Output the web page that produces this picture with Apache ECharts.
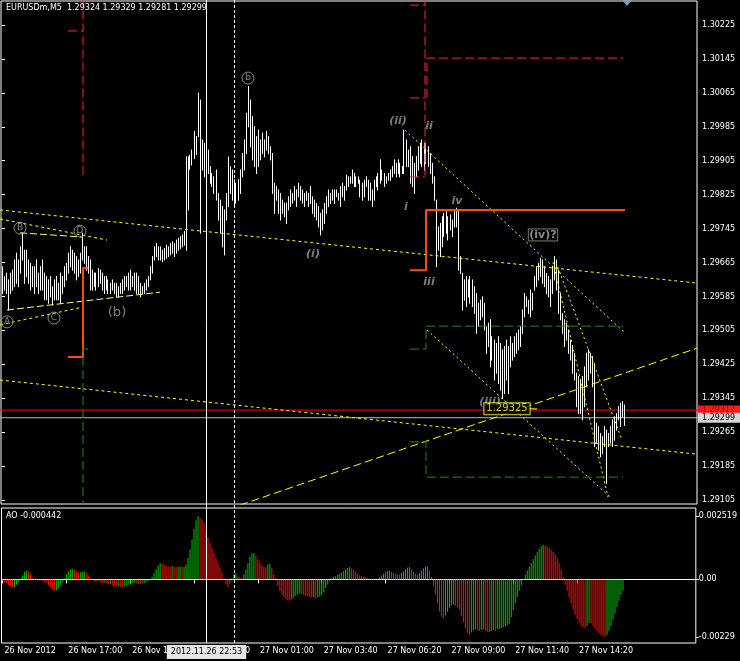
<!DOCTYPE html>
<html><head><meta charset="utf-8">
<script src="https://cdn.jsdelivr.net/npm/echarts@6/dist/echarts.min.js"></script>
<style>html,body{margin:0;padding:0;background:#000;}#c{width:740px;height:661px;}</style>
</head><body><div id="c"></div>
<script>
const symbolName = 'EURUSDm,M5';
const lastOpen = 1.29324, lastClose = 1.29299;
const barHigh = [
1.29655,1.29632,1.29640,1.29624,1.29640,1.29647,1.29671,1.29687,1.29671,1.29702,
1.29734,1.29694,1.29694,1.29671,1.29663,1.29655,1.29655,1.29671,1.29640,1.29655,
1.29671,1.29640,1.29632,1.29624,1.29632,1.29608,1.29624,1.29632,1.29616,1.29640,
1.29632,1.29655,1.29663,1.29687,1.29702,1.29694,1.29687,1.29679,1.29671,1.29687,
1.29734,1.29702,1.29702,1.29679,1.29671,1.29647,1.29640,1.29640,1.29651,1.29647,
1.29640,1.29632,1.29632,1.29624,1.29616,1.29624,1.29616,1.29616,1.29608,1.29616,
1.29624,1.29632,1.29632,1.29640,1.29647,1.29632,1.29640,1.29640,1.29632,1.29616,
1.29608,1.29616,1.29624,1.29632,1.29655,1.29679,1.29702,1.29710,1.29702,1.29702,
1.29694,1.29698,1.29706,1.29702,1.29710,1.29714,1.29710,1.29718,1.29722,1.29726,
1.29730,1.29738,1.29914,1.29914,1.29918,1.29930,1.29974,1.29962,1.30064,1.30048,
1.29954,1.29946,1.29938,1.29930,1.29891,1.29875,1.29867,1.29883,1.29828,1.29812,
1.29797,1.29789,1.29828,1.29914,1.29891,1.29883,1.29860,1.29852,1.29860,1.29883,
1.29922,1.29954,1.30017,1.30080,1.30048,1.30009,1.29985,1.29962,1.29977,1.29954,
1.29970,1.29954,1.29974,1.29962,1.29938,1.29922,1.29852,1.29844,1.29836,1.29828,
1.29812,1.29805,1.29805,1.29820,1.29836,1.29828,1.29844,1.29836,1.29852,1.29844,
1.29836,1.29828,1.29832,1.29828,1.29844,1.29820,1.29812,1.29804,1.29797,1.29781,
1.29789,1.29804,1.29820,1.29836,1.29828,1.29836,1.29836,1.29836,1.29828,1.29844,
1.29852,1.29844,1.29871,1.29867,1.29867,1.29883,1.29875,1.29867,1.29867,1.29859,
1.29852,1.29859,1.29867,1.29859,1.29852,1.29836,1.29859,1.29867,1.29875,1.29907,
1.29883,1.29875,1.29867,1.29875,1.29883,1.29891,1.29907,1.29899,1.29907,1.29899,
1.29891,1.29977,1.29954,1.29930,1.29938,1.29915,1.29899,1.29915,1.29938,1.29946,
1.29954,1.29946,1.29946,1.29938,1.29922,1.29899,1.29867,1.29812,1.29749,1.29757,
1.29773,1.29781,1.29785,1.29773,1.29777,1.29765,1.29789,1.29793,1.29789,1.29679,
1.29639,1.29624,1.29632,1.29624,1.29632,1.29624,1.29608,1.29592,1.29569,1.29576,
1.29584,1.29569,1.29514,1.29522,1.29530,1.29490,1.29482,1.29474,1.29490,1.29474,
1.29459,1.29467,1.29482,1.29467,1.29490,1.29474,1.29490,1.29498,1.29506,1.29514,
1.29553,1.29592,1.29584,1.29576,1.29600,1.29592,1.29632,1.29655,1.29663,1.29675,
1.29671,1.29655,1.29639,1.29632,1.29624,1.29655,1.29679,1.29671,1.29647,1.29592,
1.29545,1.29530,1.29522,1.29506,1.29482,1.29467,1.29451,1.29404,1.29396,1.29388,
1.29396,1.29419,1.29451,1.29459,1.29451,1.29443,1.29427,1.29286,1.29278,1.29262,
1.29254,1.29278,1.29270,1.29262,1.29278,1.29294,1.29301,1.29309,1.29325,1.29333,
1.29337,1.29329];
const barLow = [
1.29592,1.29600,1.29592,1.29553,1.29592,1.29600,1.29608,1.29616,1.29608,1.29640,
1.29671,1.29616,1.29632,1.29616,1.29600,1.29608,1.29592,1.29608,1.29592,1.29600,
1.29600,1.29577,1.29577,1.29569,1.29584,1.29565,1.29577,1.29577,1.29577,1.29569,
1.29592,1.29608,1.29624,1.29640,1.29655,1.29647,1.29640,1.29624,1.29632,1.29640,
1.29671,1.29663,1.29647,1.29640,1.29600,1.29600,1.29608,1.29600,1.29608,1.29616,
1.29600,1.29592,1.29600,1.29592,1.29592,1.29600,1.29592,1.29584,1.29584,1.29592,
1.29592,1.29600,1.29608,1.29600,1.29600,1.29608,1.29600,1.29592,1.29592,1.29584,
1.29592,1.29592,1.29600,1.29608,1.29624,1.29640,1.29671,1.29679,1.29671,1.29671,
1.29667,1.29671,1.29675,1.29679,1.29683,1.29687,1.29679,1.29687,1.29694,1.29698,
1.29702,1.29706,1.29694,1.29789,1.29885,1.29895,1.29910,1.29920,1.29962,1.29734,
1.29883,1.29867,1.29852,1.29875,1.29852,1.29844,1.29828,1.29812,1.29765,1.29734,
1.29702,1.29683,1.29765,1.29797,1.29828,1.29812,1.29797,1.29805,1.29812,1.29828,
1.29867,1.29883,1.29922,1.29985,1.29938,1.29907,1.29891,1.29875,1.29891,1.29907,
1.29922,1.29914,1.29930,1.29922,1.29907,1.29828,1.29781,1.29812,1.29781,1.29765,
1.29781,1.29773,1.29757,1.29789,1.29797,1.29805,1.29812,1.29797,1.29820,1.29812,
1.29805,1.29797,1.29812,1.29797,1.29804,1.29781,1.29773,1.29765,1.29749,1.29730,
1.29742,1.29757,1.29781,1.29797,1.29804,1.29812,1.29804,1.29820,1.29812,1.29797,
1.29820,1.29812,1.29836,1.29844,1.29852,1.29852,1.29844,1.29844,1.29852,1.29820,
1.29812,1.29820,1.29844,1.29812,1.29812,1.29797,1.29812,1.29844,1.29836,1.29852,
1.29859,1.29844,1.29852,1.29859,1.29859,1.29867,1.29875,1.29867,1.29875,1.29867,
1.29875,1.29875,1.29891,1.29891,1.29852,1.29844,1.29828,1.29867,1.29883,1.29899,
1.29891,1.29883,1.29899,1.29891,1.29875,1.29852,1.29812,1.29655,1.29694,1.29679,
1.29702,1.29726,1.29734,1.29718,1.29742,1.29726,1.29749,1.29749,1.29647,1.29639,
1.29553,1.29576,1.29561,1.29584,1.29569,1.29561,1.29545,1.29498,1.29514,1.29530,
1.29537,1.29506,1.29451,1.29467,1.29419,1.29435,1.29388,1.29404,1.29380,1.29364,
1.29344,1.29356,1.29388,1.29356,1.29419,1.29435,1.29443,1.29451,1.29459,1.29467,
1.29498,1.29537,1.29561,1.29545,1.29537,1.29553,1.29600,1.29608,1.29624,1.29632,
1.29616,1.29608,1.29592,1.29584,1.29561,1.29592,1.29624,1.29600,1.29545,1.29530,
1.29498,1.29467,1.29482,1.29451,1.29435,1.29404,1.29388,1.29325,1.29309,1.29309,
1.29294,1.29325,1.29372,1.29388,1.29404,1.29372,1.29231,1.29239,1.29223,1.29207,
1.29215,1.29231,1.29144,1.29231,1.29239,1.29231,1.29246,1.29270,1.29294,1.29278,
1.29301,1.29281];
const aoValues = [
-0.00005,-0.00010,-0.00015,-0.00022,-0.00028,-0.00032,-0.00030,-0.00020,-0.00010,0.00002,
0.00015,0.00030,0.00034,0.00032,0.00020,0.00005,0.00002,-0.00002,-0.00005,-0.00003,
-0.00006,-0.00008,-0.00012,-0.00022,-0.00032,-0.00040,-0.00045,-0.00044,-0.00035,-0.00022,
-0.00010,0.00005,0.00020,0.00032,0.00040,0.00042,0.00038,0.00032,0.00028,0.00029,
0.00030,0.00031,0.00025,0.00015,0.00005,-0.00002,-0.00006,-0.00008,-0.00005,-0.00010,
-0.00014,-0.00012,-0.00016,-0.00020,-0.00018,-0.00022,-0.00025,-0.00028,-0.00026,-0.00030,
-0.00032,-0.00028,-0.00024,-0.00022,-0.00018,-0.00016,-0.00014,-0.00016,-0.00018,-0.00017,
-0.00018,-0.00015,-0.00010,-0.00006,-0.00002,0.00010,0.00025,0.00040,0.00055,0.00065,
0.00062,0.00058,0.00054,0.00052,0.00050,0.00052,0.00050,0.00049,0.00050,0.00051,
0.00049,0.00050,0.00060,0.00085,0.00120,0.00160,0.00200,0.00235,0.002519,0.00245,
0.00238,0.00225,0.00195,0.00165,0.00145,0.00125,0.00105,0.00085,0.00065,0.00045,
0.00025,0.00005,-0.00020,-0.00030,-0.00015,0.00005,0.00020,0.00025,0.00012,0.00008,
0.00006,0.00020,0.00040,0.00065,0.00090,0.00103,0.00105,0.00095,0.00080,0.00065,
0.00055,0.00050,0.00048,0.00058,0.00062,0.00045,0.00020,0.00000,-0.00025,-0.00045,
-0.00060,-0.00070,-0.00078,-0.00083,-0.00085,-0.00080,-0.00072,-0.00065,-0.00058,-0.00055,
-0.00058,-0.00062,-0.00066,-0.00068,-0.00070,-0.00072,-0.00070,-0.00074,-0.00072,-0.00068,
-0.00062,-0.00050,-0.00035,-0.00020,-0.00005,0.00005,0.00010,0.00012,0.00018,0.00022,
0.00028,0.00034,0.00040,0.00045,0.00048,0.00044,0.00038,0.00030,0.00022,0.00015,
0.00012,0.00010,0.00008,0.00006,0.00004,0.00003,0.00002,0.00001,0.00003,0.00008,
0.00015,0.00022,0.00028,0.00032,0.00033,0.00030,0.00026,0.00022,0.00019,0.00018,
0.00025,0.00032,0.00040,0.00046,0.00048,0.00040,0.00030,0.00022,0.00018,0.00025,
0.00035,0.00044,0.00050,0.00052,0.00035,0.00010,-0.00025,-0.00060,-0.00095,-0.00128,
-0.00148,-0.00155,-0.00145,-0.00130,-0.00115,-0.00105,-0.00100,-0.00105,-0.00112,-0.00120,
-0.00145,-0.00170,-0.00195,-0.00212,-0.00220,-0.00210,-0.00202,-0.00198,-0.00202,-0.00205,
-0.00200,-0.00198,-0.00204,-0.00208,-0.00210,-0.00205,-0.00202,-0.00206,-0.00198,-0.00196,
-0.00193,-0.00190,-0.00187,-0.00183,-0.00178,-0.00150,-0.00122,-0.00095,-0.00070,-0.00045,
-0.00022,-0.00002,0.00018,0.00035,0.00050,0.00065,0.00080,0.00095,0.00110,0.00122,
0.00132,0.00138,0.00135,0.00130,0.00125,0.00118,0.00110,0.00100,0.00085,0.00065,
0.00040,0.00010,-0.00020,-0.00045,-0.00070,-0.00095,-0.00120,-0.00140,-0.00158,-0.00172,
-0.00185,-0.00190,-0.00193,-0.00185,-0.00172,-0.00175,-0.00185,-0.00195,-0.00205,-0.00215,
-0.00222,-0.00226,-0.00229,-0.00220,-0.00205,-0.00185,-0.00160,-0.00135,-0.00110,-0.00085,
-0.00062,-0.000442];

const priceTicks = [1.30225,1.30145,1.30065,1.29985,1.29905,1.29825,1.29745,1.29665,1.29585,1.29505,1.29425,1.29345,1.29265,1.29185,1.29105];
const aoTicks = [0.002519, 0, -0.00229];
const aoTickText = ['0.002519', '0.00', '-0.00229'];
const timeTicks = ['26 Nov 2012','26 Nov 17:00','26 Nov 19:40','26 Nov 22:20','27 Nov 01:00','27 Nov 03:40','27 Nov 06:20','27 Nov 09:00','27 Nov 11:40','27 Nov 14:20'];
const barsPerTick = 32;
const totalSlots = 348;
const crossBar = 102, crossText = '2012.11.26 22:53';
const separatorBar = 116;
const redLevel = 1.29317, bidLevel = 1.29299;

// drawn objects, in [bar index, price]
const trendA = [[-1,1.29789],[346.5,1.29617]];
const trendB = [[-1,1.29768],[52.5,1.29718]];
const lineBD = [[9,1.29735],[40.5,1.29725]];
const lineAC = [[2.5,1.29553],[79,1.29595]];
const lineAC2 = [[-1,1.29518],[40.5,1.29560]];
const trendLow = [[-1,1.29388],[347.5,1.29213]];
const trendRise = [[119,1.29093],[347.5,1.29463]];
const fanH = [[201.5,1.29977],[311.5,1.29499]];
const fanI = [[212.5,1.29506],[304,1.29112]];
const fanJ1 = [[275.5,1.29666],[303,1.29112]];
const fanJ2 = [[277,1.29666],[310,1.29246]];
const redSegs = [
  [[33,1.30211],[40.5,1.30211]],
  [[40.5,1.30290],[40.5,1.29864]],
  [[204,1.30272],[211.5,1.30272]],
  [[211.5,1.30290],[211.5,1.29867]],
  [[204,1.30053],[211.5,1.30053]],
  [[204,1.29867],[211.5,1.29867]],
  [[212.5,1.30053],[212.5,1.30147],[310.5,1.30147]]
];
const orangeSegs = [
  [[33,1.29442],[40.5,1.29442],[40.5,1.29652],[43,1.29652]],
  [[204,1.29647],[212,1.29647],[212,1.29789],[311.5,1.29789]]
];
const greenSegs = [
  [[43,1.29461],[40.5,1.29461],[40.5,1.29090]],
  [[204,1.29461],[212,1.29461],[212,1.29515],[310.5,1.29515]],
  [[204,1.29242],[212,1.29242],[212,1.29159],[310.5,1.29159]]
];
const circledLabels = [['A',2.5,1.29525],['B',9,1.29746],['C',26,1.29534],['D',39,1.29739],['b',123,1.30100]];
const italicLabels = [['(i)',155.5,1.29685],['(ii)',198,1.29999],['ii',213.5,1.29987],['i',202,1.29796],['iii',213.5,1.29619],['iv',227.5,1.29810],['(iii)',244,1.29336]];
const plainLabels = [['(b)',57.5,1.29548]];
const boxedLabels = [['(iv)?',270.5,1.29730]];
const priceTag = [['1.29325',252.5,1.29320]];
const priceTagLead = [[262.5,1.29320],[267.5,1.29320]];

const FONT = 'DejaVu Sans';
const slots = Array.from({length: totalSlots}, (_, i) => String(i));
const chart = echarts.init(document.getElementById('c'), null, {renderer: 'canvas'});

function seg(points, color, type, width, z) {
  return {type:'line', xAxisIndex:2, yAxisIndex:0, data:points, showSymbol:false, symbol:'none',
    silent:true, z: z || 4, animation:false, lineStyle:{color:color, width:width||1, type:type}};
}
function labelSeries(items, lab, z) {
  return {type:'scatter', xAxisIndex:2, yAxisIndex:0, symbolSize:1, silent:true, z: z || 6, animation:false,
    itemStyle:{color:'rgba(0,0,0,0)'},
    data: items.map(d => ({value:[d[1], d[2]], name:d[0]})),
    label: Object.assign({show:true, position:'inside', formatter: p => p.name, fontFamily:FONT}, lab)};
}
const tickShow = (idx) => idx % barsPerTick === 0 && idx / barsPerTick < timeTicks.length;

const aoColors = aoValues.map((v, i) => (i > 0 && v > aoValues[i-1]) ? '#00c000' : '#ff1010');

const series = [
  {
    type:'custom', xAxisIndex:0, yAxisIndex:0, z:3, clip:true, animation:false, silent:true,
    data: barHigh.map((h, i) => [i, h, barLow[i]]),
    encode:{x:0, y:[1,2]},
    renderItem: function(params, api) {
      const i = api.value(0);
      const p1 = api.coord([i, api.value(1)]);
      const p2 = api.coord([i, api.value(2)]);
      const x = Math.floor(p1[0]) + 0.5;
      return {type:'line', shape:{x1:x, y1:p1[1]-0.5, x2:x, y2:p2[1]+0.5}, style:{stroke:'#ffffff', lineWidth:1}};
    }
  },
  {
    type:'bar', xAxisIndex:1, yAxisIndex:1, z:3, animation:false, silent:true, barWidth:1, large:false,
    data: aoValues.map((v, i) => ({value:v, itemStyle:{color:aoColors[i], opacity:1}}))
  },
  seg([[-1, bidLevel],[totalSlots, bidLevel]], '#bdbdbd', 'solid', 1, 2),
  seg([[-1, redLevel],[totalSlots, redLevel]], '#ff0000', 'solid', 1, 2),
  seg(trendA, '#ffff00', [3,3]),
  seg(trendB, '#ffff00', [3,3]),
  seg(lineBD, '#ffff70', [7,3]),
  seg(lineAC, '#ffff70', [7,3]),
  seg(lineAC2, '#ffff00', [3,3]),
  seg(trendLow, '#ffff00', [3,3]),
  seg(trendRise, '#ffff00', [8,4]),
  seg(fanH, '#ffff00', [2,3]),
  seg(fanI, '#ffff00', [2,3]),
  seg(fanJ1, '#ffff00', [2,3]),
  seg(fanJ2, '#ffff00', [2,3]),
  seg(priceTagLead, '#ffff00', 'solid'),
  ...redSegs.map(s => seg(s, '#ff2050', [9,4])),
  ...orangeSegs.map(s => seg(s, '#ff4a10', 'solid', 2)),
  ...greenSegs.map(s => seg(s, '#1f8a1f', [9,4])),
  labelSeries(circledLabels, {color:'#a8a8a8', fontSize:9, borderColor:'#a8a8a8', borderWidth:1, borderRadius:7,
    width:12, height:12, lineHeight:12, align:'center', verticalAlign:'middle', padding:[0,0,0,0]}),
  labelSeries(italicLabels, {color:'#9c9c9c', fontSize:11, fontStyle:'italic', fontWeight:'bold'}),
  labelSeries(plainLabels, {color:'#a0a0a0', fontSize:13}),
  labelSeries(boxedLabels, {color:'#b0b0b0', fontSize:11, fontWeight:'bold', borderColor:'#9a9a9a', borderWidth:1, padding:[1,1,0,1]}),
  labelSeries(priceTag, {color:'#ffff40', fontSize:10, backgroundColor:'#000000', borderColor:'#ffff40', borderWidth:1, padding:[1,2,0,2]}, 7)
];

const option = {
  animation:false,
  backgroundColor:'#000000',
  grid:[
    {left:1, top:1, width:696, height:503, show:true, borderColor:'#ffffff', borderWidth:1, backgroundColor:'#000000'},
    {left:1.5, top:508, width:696, height:135, show:true, borderColor:'#ffffff', borderWidth:1, backgroundColor:'#000000'}
  ],
  xAxis:[
    {type:'category', gridIndex:0, data:slots, boundaryGap:true, show:false},
    {type:'category', gridIndex:1, data:slots, boundaryGap:true,
      axisLine:{show:true, lineStyle:{color:'#ffffff'}},
      axisTick:{show:true, interval:(idx) => tickShow(idx), alignWithLabel:true, length:4, lineStyle:{color:'#ffffff'}},
      axisLabel:{show:true, interval:(idx) => tickShow(idx), formatter:(v) => timeTicks[Number(v)/barsPerTick],
        color:'#ffffff', fontSize:8, fontFamily:FONT, align:'left', margin:4, padding:[0,0,0,2]},
      splitLine:{show:false}},
    {type:'value', gridIndex:0, min:-0.5, max:totalSlots-0.5, show:false}
  ],
  yAxis:[
    {type:'value', gridIndex:0, position:'right', min:1.290956, max:1.302816,
      splitLine:{show:false}, axisLine:{show:false},
      axisTick:{show:true, customValues:priceTicks, length:3, lineStyle:{color:'#ffffff'}},
      axisLabel:{show:true, customValues:priceTicks, formatter:(v) => v.toFixed(5), color:'#ffffff', fontSize:8, fontFamily:FONT, margin:5}},
    {type:'value', gridIndex:1, position:'right', min:-0.002528, max:0.002837,
      splitLine:{show:false}, axisLine:{show:false},
      axisTick:{show:true, customValues:aoTicks, length:3, lineStyle:{color:'#ffffff'}},
      axisLabel:{show:true, customValues:aoTicks, formatter:(v) => aoTickText[aoTicks.indexOf(v)] ?? String(v), color:'#ffffff', fontSize:8, fontFamily:FONT, margin:3}}
  ],
  series: series
};
chart.setOption(option);

const last = barHigh.length - 1;
const header = symbolName + '  ' + lastOpen.toFixed(5) + ' ' + barHigh[last].toFixed(5) + ' ' + barLow[last].toFixed(5) + ' ' + lastClose.toFixed(5);
const aoHeader = 'AO ' + aoValues[aoValues.length-1].toFixed(6);
const xc = Math.floor(chart.convertToPixel({xAxisIndex:2}, crossBar)) + 0.5;
const xs = Math.floor(chart.convertToPixel({xAxisIndex:2}, separatorBar)) + 0.5;
const yRed = chart.convertToPixel({yAxisIndex:0}, redLevel);
const yBid = chart.convertToPixel({yAxisIndex:0}, bidLevel);
chart.setOption({graphic:[
  {type:'line', z:50, silent:true, shape:{x1:xs, y1:0, x2:xs, y2:643}, style:{stroke:'#ffffff', lineWidth:1, lineDash:[3,2]}},
  {type:'line', z:50, silent:true, shape:{x1:xc, y1:0, x2:xc, y2:643}, style:{stroke:'#ffffff', lineWidth:1}},
  {type:'text', z:60, silent:true, x:xc, y:645, style:{text:crossText, fill:'#000000', backgroundColor:'#e6e6e6',
    font:'8px "DejaVu Sans"', align:'center', verticalAlign:'top', padding:[3,4,3,4]}},
  {type:'text', z:60, silent:true, x:698, y:yRed, style:{text:redLevel.toFixed(5), fill:'#9a0000', backgroundColor:'#ff1a1a',
    font:'8px "DejaVu Sans"', align:'left', verticalAlign:'middle', padding:[0,6,0,4], lineHeight:9}},
  {type:'text', z:61, silent:true, x:698, y:yBid, style:{text:bidLevel.toFixed(5), fill:'#000000', backgroundColor:'#d6d6d6',
    font:'8px "DejaVu Sans"', align:'left', verticalAlign:'middle', padding:[0,6,0,4], lineHeight:10}},
  {type:'text', z:60, silent:true, x:6, y:4, style:{text:header, fill:'#ffffff', font:'8px "DejaVu Sans"', align:'left', verticalAlign:'top'}},
  {type:'text', z:60, silent:true, x:6, y:512, style:{text:aoHeader, fill:'#ffffff', font:'8px "DejaVu Sans"', align:'left', verticalAlign:'top'}},
  {type:'polygon', z:60, silent:true, shape:{points:[[622,0],[632,0],[627,6]]}, style:{fill:'#8a9bb0'}}
]});
</script></body></html>
